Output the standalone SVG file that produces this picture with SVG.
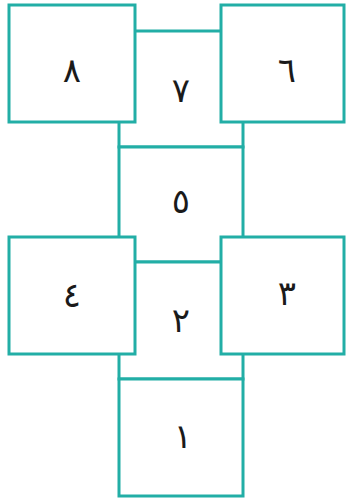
<svg xmlns="http://www.w3.org/2000/svg" width="346" height="502" viewBox="0 0 346 502">
<style>
.b{fill:#fff;stroke:#22aea6;stroke-width:3}
.t{font-family:"DejaVu Sans",sans-serif;font-size:34px;fill:#1a1a1a;text-anchor:middle;dominant-baseline:central}
</style>
<rect width="346" height="502" fill="#fff"/>
<g id="n7"><rect class="b" x="119" y="31" width="124" height="116"/><text class="t" x="181" y="90">٧</text></g>
<g id="n5"><rect class="b" x="119" y="147" width="124" height="115"/><text class="t" x="181" y="201">٥</text></g>
<g id="n2"><rect class="b" x="119" y="262" width="124" height="117"/><text class="t" x="181" y="320">٢</text></g>
<g id="n1"><rect class="b" x="119" y="379" width="124" height="117"/><text class="t" x="183" y="436">١</text></g>
<g id="n8"><rect class="b" x="9" y="5" width="126" height="117"/><text class="t" x="72" y="70">٨</text></g>
<g id="n6"><rect class="b" x="221" y="5" width="123" height="117"/><text class="t" x="287" y="70">٦</text></g>
<g id="n4"><rect class="b" x="9" y="237" width="126" height="117"/><text class="t" x="72" y="295">٤</text></g>
<g id="n3"><rect class="b" x="221" y="237" width="123" height="117"/><text class="t" x="287" y="293">٣</text></g>
<g id="connectors"></g>
</svg>
